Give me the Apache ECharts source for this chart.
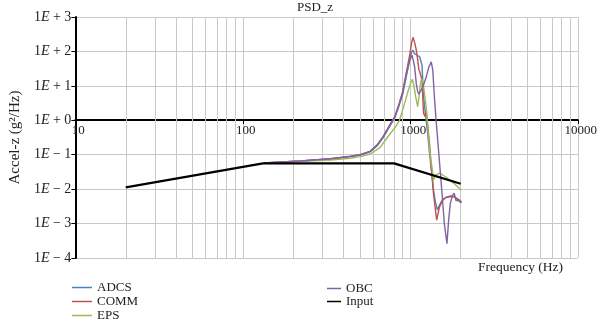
<!DOCTYPE html>
<html><head><meta charset="utf-8">
<script src="https://cdn.jsdelivr.net/npm/echarts@6/dist/echarts.min.js"></script>
<style>html,body{margin:0;padding:0;background:#fff}#c{width:600px;height:325px}</style>
</head><body><div id="c"></div>
<script>
// ---- data (frequency Hz, PSD g^2/Hz) ----
const seriesNames = ['ADCS', 'COMM', 'EPS', 'OBC', 'Input'];
const adcs = [[134,0.058],[222,0.066],[334,0.075],[438,0.088],[502,0.098],[576,0.122],[633,0.18],[687,0.31],[755,0.68],[809,1.2],[862,2.9],[902,5.8],[940,16],[966,30],[992,58],[1019,95],[1038,110],[1055,88],[1076,82],[1106,76],[1137,70],[1160,64],[1175,40],[1189,12],[1200,5],[1233,1.4],[1268,0.45],[1303,0.11],[1337,0.035],[1374,0.01],[1413,0.0042],[1452,0.0025],[1493,0.0034],[1550,0.0048],[1634,0.0058],[1733,0.0062],[1829,0.0061],[1905,0.005],[1959,0.0046],[2014,0.0042]];
const comm = [[134,0.058],[222,0.066],[334,0.076],[438,0.089],[502,0.1],[576,0.125],[633,0.19],[687,0.33],[755,0.74],[809,1.3],[862,3.3],[902,7],[940,20],[966,40],[992,80],[1019,180],[1038,257],[1062,180],[1086,110],[1106,60],[1125,30],[1137,26],[1160,24],[1175,15],[1189,4],[1200,1.6],[1225,1.3],[1245,2.0],[1258,1.9],[1275,0.6],[1303,0.2],[1337,0.04],[1374,0.008],[1413,0.0025],[1438,0.00125],[1452,0.0016],[1493,0.003],[1560,0.0048],[1634,0.0057],[1733,0.0062],[1829,0.006],[1872,0.0058],[1959,0.0049],[2020,0.0042]];
const eps = [[134,0.058],[222,0.064],[334,0.07],[438,0.079],[502,0.088],[576,0.105],[659,0.16],[755,0.4],[809,0.6],[862,1.0],[913,2.5],[966,6.6],[1005,12],[1030,15.4],[1047,11],[1076,5],[1106,2.5],[1122,4],[1151,12],[1167,16.5],[1178,14.5],[1195,11.7],[1245,2.4],[1303,0.134],[1355,0.035],[1374,0.018],[1413,0.025],[1493,0.029],[1634,0.0225],[1829,0.0145],[2020,0.0093]];
const obc = [[134,0.058],[222,0.066],[334,0.076],[438,0.09],[502,0.1],[576,0.125],[633,0.19],[687,0.33],[755,0.72],[809,1.25],[862,3.1],[902,6.5],[940,19],[992,55],[1024,78],[1047,50],[1062,35],[1086,11.6],[1109,6.6],[1125,5.7],[1151,7],[1189,9.3],[1245,18],[1290,35],[1334,50],[1363,28],[1393,4.8],[1426,1.0],[1493,0.065],[1549,0.007],[1597,0.001],[1656,0.00026],[1693,0.0012],[1733,0.0038],[1787,0.0066],[1829,0.0077],[1872,0.0047],[1905,0.0052],[1959,0.0045],[2020,0.004]];
const input = [[20,0.0113],[132,0.056],[800,0.056],[2000,0.0143]];
const xTicks = [10, 100, 1000, 10000];
const xMinor = [20,30,40,50,60,70,80,90,200,300,400,500,600,700,800,900,2000,3000,4000,5000,6000,7000,8000,9000];
const yExponents = [3, 2, 1, 0, -1, -2, -3, -4];
const colors = ['#4F81BD', '#C0504D', '#9BBB59', '#8064A2', '#000000'];

const FONT = 'Liberation Serif';
const chart = echarts.init(document.getElementById('c'), null, {renderer: 'canvas'});

function yLabel(v) {
  const e = Math.round(Math.log10(v));
  const t = yExponents.indexOf(e) >= 0 ? e : e;
  return '1{i|E} ' + (t < 0 ? '\u2212' : '+') + ' ' + Math.abs(t);
}
function xLabel(v) {
  const r = Math.round(v);
  const t = xTicks.find(k => Math.abs(k - r) / k < 1e-6);
  return t !== undefined ? String(t) : '';
}

const dataSets = [adcs, comm, eps, obc, input];
const series = seriesNames.map((n, i) => {
  const s = {
    name: n, type: 'line', data: dataSets[i], symbol: 'none', smooth: false,
    lineStyle: {color: colors[i], width: i === 4 ? 2.2 : 1.4},
    itemStyle: {color: colors[i]},
    z: 2 + i
  };
  if (i === 4) {
    s.markLine = {
      silent: true, z: 1, symbol: ['none', 'none'], label: {show: false},
      lineStyle: {color: '#c8c8c8', width: 1, type: 'solid'},
      emphasis: {disabled: true},
      data: xMinor.map(v => ({xAxis: v}))
    };
  }
  return s;
});

const legendText = {fontFamily: FONT, fontSize: 13, color: '#222'};
chart.setOption({
  animation: false,
  backgroundColor: '#fff',
  title: {text: 'PSD_z', left: 297, top: 1, padding: 0,
    textStyle: {fontFamily: FONT, fontSize: 13, fontWeight: 'normal', color: '#222'}},
  grid: {left: 72, right: 20, top: 17, bottom: 67, containLabel: false},
  legend: [
    {data: ['ADCS', 'COMM', 'EPS'], orient: 'vertical', left: 72, top: 281, padding: 0, itemGap: 1,
      icon: 'rect', itemWidth: 20, itemHeight: 1.5, textStyle: legendText},
    {data: ['OBC', 'Input'], orient: 'vertical', left: 327, top: 282, padding: 0, itemGap: 0,
      icon: 'rect', itemWidth: 14, itemHeight: 1.5, textStyle: legendText}
  ],
  xAxis: {
    type: 'log', logBase: 10, min: 10, max: 10000, interval: 1,
    position: 'bottom', offset: -138,
    axisLine: {show: true, onZero: false, lineStyle: {color: '#000', width: 2}},
    axisTick: {show: true, length: 4, lineStyle: {color: '#000', width: 1}},
    axisLabel: {fontFamily: FONT, fontSize: 13, color: '#222', margin: 4, padding: [0, 0, 0, 6], formatter: xLabel},
    splitLine: {show: true, lineStyle: {color: '#c8c8c8', width: 1}}
  },
  yAxis: {
    type: 'log', logBase: 10, min: 1e-4, max: 1e3, interval: 1,
    name: 'Accel-z (g\u00b2/Hz)', nameLocation: 'middle', nameGap: 52,
    nameTextStyle: {fontFamily: FONT, fontSize: 15, color: '#222'},
    axisLine: {show: true, lineStyle: {color: '#000', width: 2}},
    axisTick: {show: true, length: 4, lineStyle: {color: '#000', width: 1}},
    axisLabel: {fontFamily: FONT, fontSize: 14, color: '#222', margin: 4, formatter: yLabel,
      rich: {i: {fontStyle: 'italic', fontFamily: FONT, fontSize: 14, color: '#222'}}},
    splitLine: {show: true, lineStyle: {color: '#c8c8c8', width: 1}}
  },
  graphic: [
    {type: 'text', left: 478, top: 260, silent: true,
      style: {text: 'Frequency (Hz)', font: '13.5px "Liberation Serif"', fill: '#222'}}
  ],
  series: series
});
</script>
</body></html>
